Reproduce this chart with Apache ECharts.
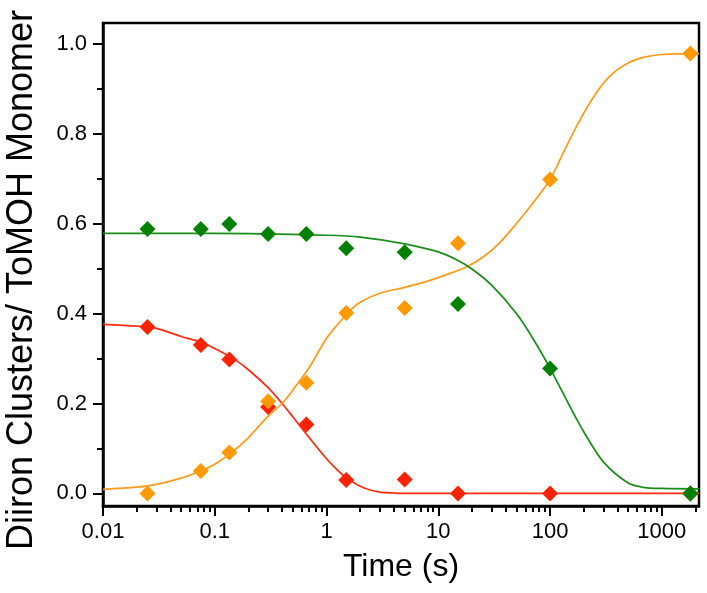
<!DOCTYPE html>
<html>
<head>
<meta charset="utf-8">
<script src="https://cdn.jsdelivr.net/npm/echarts@6/dist/echarts.min.js"></script>
<style>
html,body{margin:0;padding:0;background:#fff;}
#chart{width:707px;height:593px;}
</style>
</head>
<body>
<div id="chart"></div>
<script>
// Measured points
const times = [0.025, 0.075, 0.135, 0.3, 0.66, 1.5, 5, 15, 100, 1800];
const redPts = [0.370, 0.330, 0.298, 0.192, 0.153, 0.030, 0.031, 0.0, 0.0, 0.0];
const orangePts = [0.0, 0.050, 0.091, 0.205, 0.246, 0.401, 0.412, 0.556, 0.698, 0.978];
const greenPts = [0.588, 0.588, 0.599, 0.577, 0.577, 0.545, 0.536, 0.421, 0.278, 0.0];

// Fitted curves
const redFitT = [0.01,0.02,0.03,0.05,0.075,0.1,0.15,0.2,0.3,0.4,0.5,0.7,1,1.3,1.6,2,2.5,3,4,5,10,100,1000,2150];
const redFitY = [0.376,0.372,0.367,0.349,0.336,0.322,0.298,0.275,0.235,0.200,0.170,0.124,0.077,0.048,0.030,0.016,0.007,0.003,0.001,0,0,0,0,0];
const greenFitT = [0.01,0.1,1,2,5,10,15,20,30,50,70,100,150,200,300,500,700,1000,2150];
const greenFitY = [0.578,0.578,0.574,0.570,0.555,0.537,0.518,0.499,0.463,0.400,0.345,0.278,0.194,0.137,0.070,0.023,0.013,0.011,0.010];
const orangeFitT = [0.01,0.02,0.03,0.05,0.075,0.1,0.14,0.2,0.3,0.4,0.5,0.7,1,1.3,1.6,2,3,5,8,12,18,25,35,50,70,100,130,180,250,350,500,700,1000,2150];
const orangeFitY = [0.009,0.014,0.020,0.034,0.050,0.065,0.090,0.124,0.172,0.200,0.230,0.280,0.345,0.380,0.405,0.425,0.445,0.458,0.472,0.487,0.504,0.525,0.556,0.600,0.645,0.698,0.755,0.825,0.885,0.930,0.957,0.970,0.976,0.978];

// Axis ticks
const xMajor = [0.01, 0.1, 1, 10, 100, 1000];
const xMajorLabels = ['0.01', '0.1', '1', '10', '100', '1000'];
const xMinor = [0.02,0.03,0.04,0.05,0.06,0.07,0.08,0.09,0.2,0.3,0.4,0.5,0.6,0.7,0.8,0.9,2,3,4,5,6,7,8,9,20,30,40,50,60,70,80,90,200,300,400,500,600,700,800,900,2000];
const yMajor = [0, 0.2, 0.4, 0.6, 0.8, 1.0];
const yMajorLabels = ['0.0', '0.2', '0.4', '0.6', '0.8', '1.0'];
const yMinor = [0.1, 0.3, 0.5, 0.7, 0.9];

const zip = (xs, ys) => xs.map((x, i) => [x, ys[i]]);
const font = 'Liberation Sans, Arial, sans-serif';
const X_MIN = 0.01, X_MAX = 2150, Y_MIN = -0.028, Y_MAX = 1.046;

const chart = echarts.init(document.getElementById('chart'), null, {renderer: 'canvas'});
chart.setOption({
  animation: false,
  backgroundColor: '#fff',
  grid: {left: 103, right: 8, top: 23, bottom: 87, show: true, borderColor: '#000', borderWidth: 2.5, backgroundColor: 'transparent'},
  graphic: [{
    type: 'text', x: 22, y: 280, rotation: Math.PI / 2,
    style: {text: 'Diiron Clusters/ ToMOH Monomer', font: '36px ' + font, fill: '#000', align: 'center', verticalAlign: 'middle'}
  }],
  xAxis: [
    {
      type: 'log', logBase: 10, min: X_MIN, max: X_MAX,
      name: 'Time (s)', nameLocation: 'middle', nameGap: 45,
      nameTextStyle: {fontSize: 32, color: '#000', fontFamily: font},
      axisLine: {show: true, onZero: false, lineStyle: {color: '#000', width: 2.5}},
      axisTick: {show: true, inside: false, length: 10, lineStyle: {color: '#000', width: 2}, customValues: xMajor},
      axisLabel: {show: true, fontSize: 22, color: '#000', fontFamily: font, margin: 15, customValues: xMajor,
        formatter: v => { const i = xMajor.findIndex(t => Math.abs(Math.log10(t) - Math.log10(v)) < 1e-6); return i >= 0 ? xMajorLabels[i] : ''; }},
      splitLine: {show: false}, minorTick: {show: false}
    },
    {
      type: 'log', logBase: 10, min: X_MIN, max: X_MAX, position: 'bottom',
      axisLine: {show: false, onZero: false},
      axisTick: {show: true, inside: false, length: 6, lineStyle: {color: '#000', width: 2}, customValues: xMinor},
      axisLabel: {show: false}, splitLine: {show: false}
    }
  ],
  yAxis: [
    {
      type: 'value', min: Y_MIN, max: Y_MAX,
      axisLine: {show: true, onZero: false, lineStyle: {color: '#000', width: 2.5}},
      axisTick: {show: true, inside: false, length: 10, lineStyle: {color: '#000', width: 2}, customValues: yMajor},
      axisLabel: {show: true, fontSize: 22, color: '#000', fontFamily: font, margin: 16, customValues: yMajor,
        formatter: v => { const i = yMajor.findIndex(t => Math.abs(t - v) < 1e-6); return i >= 0 ? yMajorLabels[i] : ''; }},
      splitLine: {show: false}
    },
    {
      type: 'value', min: Y_MIN, max: Y_MAX, position: 'left',
      axisLine: {show: false, onZero: false},
      axisTick: {show: true, inside: false, length: 6, lineStyle: {color: '#000', width: 2}, customValues: yMinor},
      axisLabel: {show: false}, splitLine: {show: false}
    }
  ],
  series: [
    {type: 'line', name: 'redFit', data: zip(redFitT, redFitY), showSymbol: false, smooth: 0.3, lineStyle: {color: '#ff2a10', width: 1.7}, xAxisIndex: 0, yAxisIndex: 0, z: 2},
    {type: 'line', name: 'orangeFit', data: zip(orangeFitT, orangeFitY), showSymbol: false, smooth: 0.3, lineStyle: {color: '#ff9a1a', width: 1.7}, xAxisIndex: 0, yAxisIndex: 0, z: 2},
    {type: 'line', name: 'greenFit', data: zip(greenFitT, greenFitY), showSymbol: false, smooth: 0.3, lineStyle: {color: '#1a8c1a', width: 1.7}, xAxisIndex: 0, yAxisIndex: 0, z: 2},
    {type: 'scatter', name: 'red', data: zip(times, redPts), symbol: 'diamond', symbolSize: 16, itemStyle: {color: '#ff2200', opacity: 1}, xAxisIndex: 0, yAxisIndex: 0, z: 3},
    {type: 'scatter', name: 'orange', data: zip(times, orangePts), symbol: 'diamond', symbolSize: 16, itemStyle: {color: '#ff9900', opacity: 1}, xAxisIndex: 0, yAxisIndex: 0, z: 4},
    {type: 'scatter', name: 'green', data: zip(times, greenPts), symbol: 'diamond', symbolSize: 16, itemStyle: {color: '#008000', opacity: 1}, xAxisIndex: 0, yAxisIndex: 0, z: 5}
  ]
});
</script>
</body>
</html>
